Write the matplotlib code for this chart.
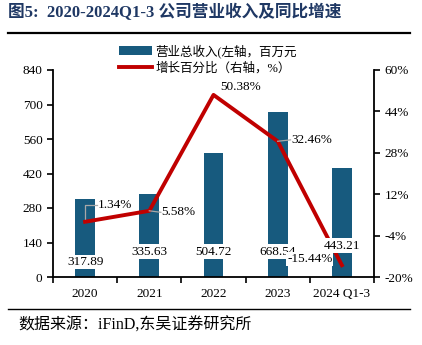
import matplotlib.pyplot as plt
import numpy as np

plt.rcParams['font.family'] = ['Liberation Serif', 'Noto Sans CJK SC']

# data
years = ['2020', '2021', '2022', '2023', '2024 Q1-3']
revenue = [317.89, 335.63, 504.72, 668.54, 443.21]
growth = [1.34, 5.58, 50.38, 32.46, -15.44]
left_ticks = [0, 140, 280, 420, 560, 700, 840]
right_ticks = [-20, -4, 12, 28, 44, 60]

bar_col = '#175A7E'
line_col = '#C00000'

fig = plt.figure(figsize=(4.22, 3.45), dpi=100)
ax = fig.add_axes([53/422, 1-277/345, (374-53)/422, (277-70)/345])
ax2 = ax.twinx()

x = np.arange(len(years))
bars = ax.bar(x, revenue, width=0.31, color=bar_col, label='营业总收入(左轴，百万元', zorder=2)
line, = ax2.plot(x, growth, color=line_col, lw=2.8, label='增长百分比（右轴，%）', zorder=3)

ax.set_xlim(-0.5, 4.5)
ax.set_ylim(0, 840)
ax.set_yticks(left_ticks)
ax2.set_ylim(-20, 60)
ax2.set_yticks(right_ticks)
ax2.set_yticklabels([f'{t}%' for t in right_ticks])

ax.set_xticks(x)
ax.set_xticklabels(years)
ax.set_xticks(np.arange(-0.5, 5, 1), minor=True)
ax.tick_params(axis='x', which='major', length=0, labelsize=9.5, pad=8)
ax.tick_params(axis='x', which='minor', length=4, width=1.2, direction='out')
ax.tick_params(axis='y', length=4, width=1.2, labelsize=9.5)
ax2.tick_params(axis='y', length=4, width=1.2, labelsize=9.5)

for a in (ax, ax2):
    a.spines['top'].set_visible(False)
    for s in ('left', 'right', 'bottom'):
        a.spines[s].set_linewidth(1.3)
ax.spines['right'].set_visible(False)
ax2.spines['left'].set_visible(False)
ax2.spines['bottom'].set_visible(False)

# bar value labels (white box), drawn on ax2 so they sit above the line
bar_label_y = [61, 103, 103, 103, 126]
for xi, v, ly in zip(x, revenue, bar_label_y):
    ax2.text(xi, ly, f'{v:.2f}', ha='center', va='center', fontsize=9.5, zorder=4,
             transform=ax.transData,
             bbox=dict(facecolor='white', edgecolor='none', pad=1.0))

# growth labels with grey leader lines
lab_pos = [(0.47, 7.8), (1.45, 5.0), (2.42, 53.6), (3.53, 33.0), (3.5, -13.0)]
lab_box = [False, False, False, False, True]
for xi, g, (lx, ly), bx in zip(x, growth, lab_pos, lab_box):
    kw = dict(facecolor='white', edgecolor='none', pad=0.5) if bx else None
    ax2.text(lx, ly, f'{g:.2f}%', ha='center', va='center', fontsize=9.5, zorder=5, bbox=kw)
# leader lines
ax2.plot([0, 0, 0.18], [growth[0], 7.8, 7.8], color='#A8A8A8', lw=0.9, zorder=2.5)
ax2.plot([1, 1.18], [growth[1], 5.0], color='#A8A8A8', lw=0.9, zorder=3.5)
ax2.plot([3, 3.2], [growth[3], 33.0], color='#A8A8A8', lw=0.9, zorder=3.5)

fig.legend(handles=[bars, line], loc='upper left', bbox_to_anchor=(114/422, 1-39/345),
           frameon=False, fontsize=9, handlelength=2.6, handletextpad=0.3,
           labelspacing=0.3, borderaxespad=0)

fig.text(8/422, 1-13/345, '图5:  2020-2024Q1-3 公司营业收入及同比增速', fontsize=12,
         fontweight='bold', color='#1F3864', va='center', ha='left')
fig.add_artist(plt.Line2D([8/422, 410/422], [1-33/345, 1-33/345], color='black', lw=1.6))
fig.add_artist(plt.Line2D([8/422, 410/422], [1-309/345, 1-309/345], color='black', lw=1.0))
fig.text(18/422, 1-326/345, '数据来源：iFinD,东吴证券研究所', fontsize=11.5, va='center', ha='left')

fig.savefig('out.png', dpi=100)
